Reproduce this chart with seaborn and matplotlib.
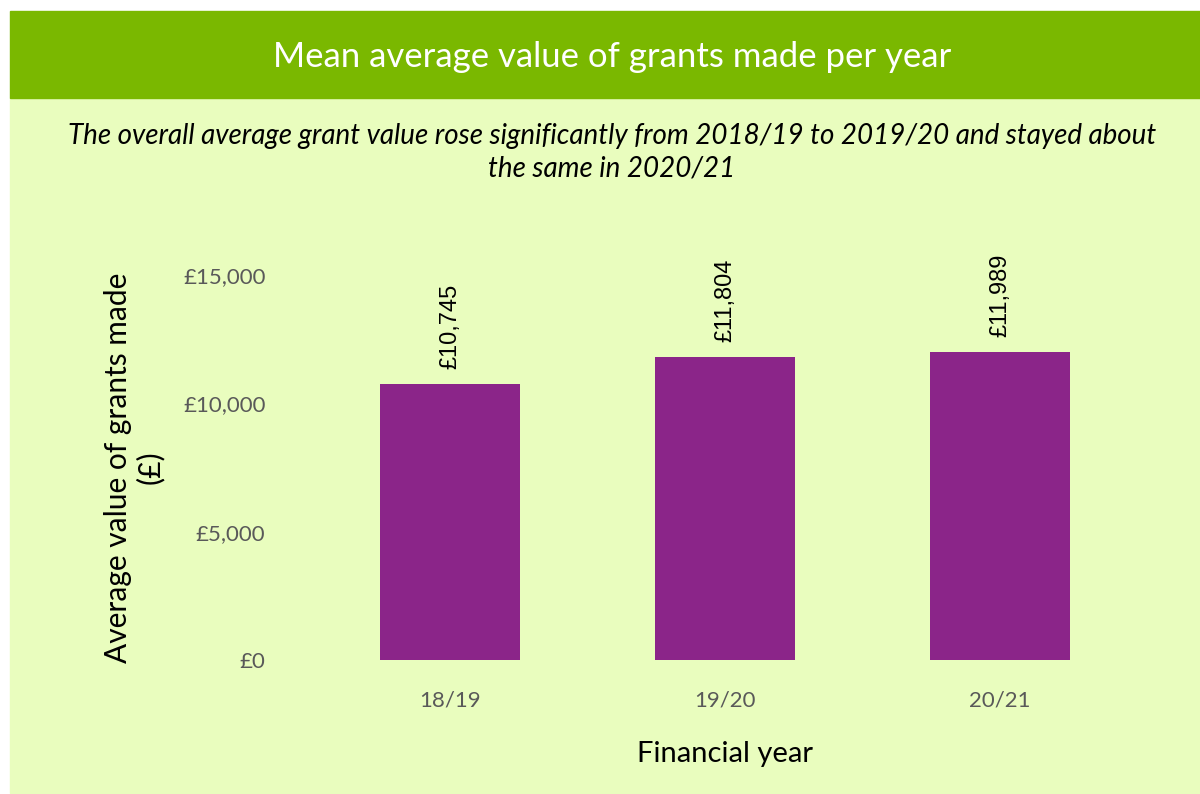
import matplotlib

matplotlib.use("Agg")
import matplotlib.pyplot as plt
from matplotlib.patches import Rectangle
import pandas as pd
import seaborn as sns

years = ["18/19", "19/20", "20/21"]
mean_grant = [10745, 11804, 11989]
y_ticks = [0, 5000, 10000, 15000]

title = "Mean average value of grants made per year"
subtitle = ("The overall average grant value rose significantly from 2018/19 to 2019/20 and stayed about\n"
            "the same in 2020/21")

BAND = "#7AB800"
PANEL = "#E9FDBE"
BAR = "#8B2589"
GREY = "#595959"

sns.set_theme(style="white")
plt.rcParams["font.family"] = ["Lato", "DejaVu Sans"]

W, H = 1200, 794
fig = plt.figure(figsize=(W / 100, H / 100), dpi=100)
fig.patch.set_facecolor("white")

# background panels (pixel coords -> figure fraction)
def px(x0, y0, x1, y1):
    return (x0 / W, 1 - y1 / H, (x1 - x0) / W, (y1 - y0) / H)

l, b, w, h = px(10, 98, 1200, 793)
fig.patches.append(Rectangle((l, b), w, h, transform=fig.transFigure, color=PANEL, zorder=-2))
l, b, w, h = px(10, 11, 1200, 98)
fig.patches.append(Rectangle((l, b), w, h, transform=fig.transFigure, color=BAND, zorder=-2))

fig.text(612 / W, 1 - 57 / H, title, color="white", fontsize=25, ha="center", va="center")
fig.text(612 / W, 1 - 152 / H, subtitle, color="black", fontsize=20, style="italic",
         ha="center", va="center", linespacing=1.3)

ax = fig.add_axes(px(285, 275, 1165, 660))
ax.set_facecolor("none")
ax.set_zorder(2)

df = pd.DataFrame({"year": years, "value": mean_grant})
sns.barplot(data=df, x="year", y="value", color=BAR, saturation=1, width=0.51,
            linewidth=0, ax=ax)

for i, v in enumerate(mean_grant):
    ax.annotate(f"£{v:,}", (i, v), xytext=(0, 11), textcoords="offset points",
                rotation=90, ha="center", va="bottom", fontsize=17,
                family="Liberation Sans", color="black", annotation_clip=False)

ax.set_ylim(0, 15000)
ax.set_xlim(-0.6, 2.6)
ax.set_yticks(y_ticks)
ax.set_yticklabels([f"£{t:,}" for t in y_ticks], color=GREY, fontsize=16)
ax.tick_params(axis="x", colors=GREY, labelsize=16, pad=22, length=0)
ax.tick_params(axis="y", length=0, pad=14)
ax.set_xlabel("Financial year", fontsize=21, color="black", labelpad=22)
ax.set_ylabel("Average value of grants made\n(£)", fontsize=21.5, color="black",
              labelpad=14, linespacing=1.12)
sns.despine(ax=ax, left=True, bottom=True)

fig.savefig("out.png", dpi=100)
